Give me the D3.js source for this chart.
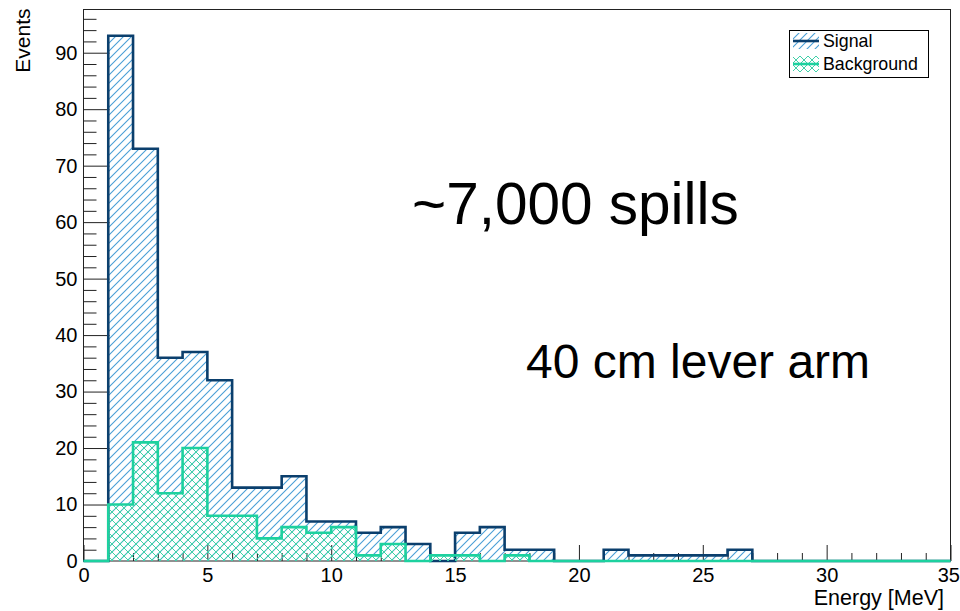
<!DOCTYPE html>
<html>
<head>
<meta charset="utf-8">
<script src="https://cdn.jsdelivr.net/npm/d3@7/dist/d3.min.js"></script>
<style>
body { margin: 0; background: #fff; }
text { font-family: "Liberation Sans", Arial, sans-serif; fill: #000; }
</style>
</head>
<body>
<svg id="chart" width="960" height="611"></svg>
<script>
// 1 MeV bins, lower edges plus the final upper edge
const binEdges = [0,1,2,3,4,5,6,7,8,9,10,11,12,13,14,15,16,17,18,19,20,21,22,23,24,25,26,27,28,29,30,31,32,33,34,35];
const signalCounts = [0,93,73,36,37,32,13,13,15,7,7,5,6,3,0,5,6,2,2,0,0,2,1,1,1,1,2,0,0,0,0,0,0,0,0];
const backgroundCounts = [0,10,21,12,20,8,8,4,6,5,6,1,3,0,1,1,0,1,0,0,0,0,0,0,0,0,0,0,0,0,0,0,0,0,0];
const xMajor = [0,5,10,15,20,25,30,35];
const yMajor = [0,10,20,30,40,50,60,70,80,90];
const legendNames = ["Signal", "Background"];

const frame = {left: 83.5, right: 950.5, top: 9.5, bottom: 561};

const svg = d3.select("#chart");

const x = d3.scaleLinear().domain([0, 35]).range([frame.left, frame.right]);
const y = d3.scaleLinear().domain([0, 97.65]).range([frame.bottom, frame.top]);

// hatch patterns
const defs = svg.append("defs");
defs.append("pattern")
    .attr("id", "hatchSig")
    .attr("patternUnits", "userSpaceOnUse")
    .attr("width", 8).attr("height", 8)
  .append("path")
    .attr("d", "M-2,2 L2,-2 M0,8 L8,0 M6,10 L10,6")
    .attr("fill", "none")
    .attr("stroke", "#4a9fd6")
    .attr("stroke-width", 1.1);

defs.append("pattern")
    .attr("id", "hatchBkg")
    .attr("patternUnits", "userSpaceOnUse")
    .attr("width", 8).attr("height", 8)
  .append("path")
    .attr("d", "M-2,2 L2,-2 M0,8 L8,0 M6,10 L10,6 M-2,6 L2,10 M0,0 L8,8 M6,-2 L10,2")
    .attr("fill", "none")
    .attr("stroke", "#3fd0a8")
    .attr("stroke-width", 1);

// frame
svg.append("rect")
    .attr("x", frame.left).attr("y", frame.top)
    .attr("width", frame.right - frame.left)
    .attr("height", frame.bottom - frame.top)
    .attr("fill", "none")
    .attr("stroke", "#222")
    .attr("stroke-width", 1);

// axes
let yAxis = d3.axisLeft(y).tickValues(yMajor).tickSizeInner(-26).tickSizeOuter(0).tickPadding(6);
let yMinor = d3.axisLeft(y).tickValues(d3.range(0, 97, 2).filter(v => v % 10 !== 0))
    .tickSizeInner(-13).tickSizeOuter(0).tickFormat("");
let xAxis = d3.axisBottom(x).tickValues(xMajor).tickSizeInner(-16).tickSizeOuter(0).tickPadding(7);
let xMinor = d3.axisBottom(x).tickValues(d3.range(1, 35, 1).filter(v => v % 5 !== 0))
    .tickSizeInner(-8).tickSizeOuter(0).tickFormat("");

function styleAxis(g) {
    g.select(".domain").remove();
    g.selectAll("line").attr("stroke", "#222");
    g.selectAll("text").attr("font-size", 20).attr("fill", "#000")
        .style("font-family", '"Liberation Sans", Arial, sans-serif');
}

svg.append("g").attr("transform", "translate(" + frame.left + ",0)").call(yAxis).call(styleAxis);
svg.append("g").attr("transform", "translate(" + frame.left + ",0)").call(yMinor).call(styleAxis);
let gx = svg.append("g").attr("transform", "translate(0," + frame.bottom + ")").call(xAxis).call(styleAxis);
svg.append("g").attr("transform", "translate(0," + frame.bottom + ")").call(xMinor).call(styleAxis);
// last label sits at the canvas edge, keep it inside
gx.selectAll(".tick text").filter(d => d === 35).attr("text-anchor", "end").attr("dx", 9);

// histogram outlines as step paths
function stepPoints(counts) {
    let pts = [[binEdges[0], 0]];
    counts.forEach((c, i) => {
        pts.push([binEdges[i], c]);
        pts.push([binEdges[i + 1], c]);
    });
    pts.push([binEdges[binEdges.length - 1], 0]);
    return pts;
}

const line = d3.line().x(d => x(d[0])).y(d => y(d[1]));

function drawHist(counts, fillId, color) {
    let pts = stepPoints(counts);
    svg.append("path")
        .attr("d", line(pts) + "Z")
        .attr("fill", "url(#" + fillId + ")")
        .attr("stroke", "none");
    svg.append("path")
        .attr("d", line(pts))
        .attr("fill", "none")
        .attr("stroke", color)
        .attr("stroke-width", 2.6)
        .attr("stroke-linejoin", "miter");
}

drawHist(signalCounts, "hatchSig", "#0b3f6d");
drawHist(backgroundCounts, "hatchBkg", "#1dd19f");

// axis titles
svg.append("text")
    .attr("transform", "translate(30," + (frame.top - 1) + ") rotate(-90)")
    .attr("text-anchor", "end")
    .attr("font-size", 21)
    .text("Events");

svg.append("text")
    .attr("x", 944)
    .attr("y", 605)
    .attr("text-anchor", "end")
    .attr("font-size", 21.5)
    .text("Energy [MeV]");

// annotations
svg.append("text")
    .attr("x", 412).attr("y", 224)
    .attr("font-size", 58.5)
    .text("~7,000 spills");

svg.append("text")
    .attr("x", 526).attr("y", 378)
    .attr("font-size", 48)
    .text("40 cm lever arm");

// legend
const legend = svg.append("g");
legend.append("rect")
    .attr("x", 789.5).attr("y", 30.5)
    .attr("width", 139).attr("height", 47)
    .attr("fill", "#fff")
    .attr("stroke", "#000")
    .attr("stroke-width", 1);

const legendItems = [
    {name: legendNames[0], fill: "hatchSig", color: "#0b3f6d"},
    {name: legendNames[1], fill: "hatchBkg", color: "#1dd19f"}
];
legendItems.forEach((d, i) => {
    let cy = 41 + i * 23;
    legend.append("rect")
        .attr("x", 793).attr("y", cy - 8)
        .attr("width", 26).attr("height", 16)
        .attr("fill", "url(#" + d.fill + ")");
    legend.append("line")
        .attr("x1", 793).attr("x2", 819)
        .attr("y1", cy).attr("y2", cy)
        .attr("stroke", d.color)
        .attr("stroke-width", 2.6);
    legend.append("text")
        .attr("x", 823).attr("y", cy + 6)
        .attr("font-size", 17.8)
        .text(d.name);
});
</script>
</body>
</html>
